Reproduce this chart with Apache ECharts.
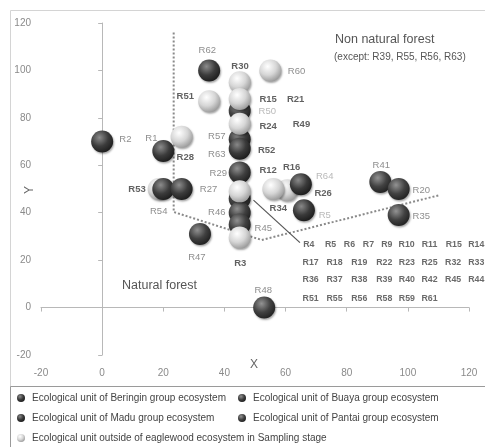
<!DOCTYPE html>
<html><head><meta charset="utf-8">
<script src="https://cdn.jsdelivr.net/npm/echarts@6/dist/echarts.min.js"></script>
<style>html,body{margin:0;padding:0;background:#fff}#c{width:485px;height:447px}</style>
</head><body><div id="c"></div>
<script>
// ---- data ----
const xTicks = [-20, 0, 20, 40, 60, 80, 100, 120];
const yTicks = [-20, 0, 20, 40, 60, 80, 100, 120];
const xAxisTitle = 'X';
const yAxisTitle = 'Y';
const seriesNames = [
  'Ecological unit of Beringin group ecosystem',
  'Ecological unit of Buaya group ecosystem',
  'Ecological unit of Madu group ecosystem',
  'Ecological unit of Pantai group ecosystem',
  'Ecological unit outside of eaglewood ecosystem in Sampling stage'
];
const beringinPts = [[0, 70], [20, 66], [35, 100], [20, 50], [26, 50]];
const buayaPts = [[45, 83], [32, 31], [45, 57], [45, 46], [45, 40], [45, 35]];
const maduPts = [[45, 71], [45, 67], [65, 52], [66, 41]];
const pantaiPts = [[91, 53], [97, 50], [97, 39], [53, 0]];
// outside units hidden behind other spheres, then those in front
const outsideBackPts = [[18.5, 50], [60.5, 49.5]];
const outsidePts = [[26, 72], [35, 87], [45, 95], [45, 88], [45, 77.5], [55, 100],
  [45, 49], [45, 29.5], [56, 50]];
const boundaryDotted = [[23.4, 116], [23.4, 40.3], [52.2, 28.5], [110.3, 47.4]];
const leaderLine = [[49.5, 45.3], [64.7, 27.4]];

// point labels: name, x, y, tone (0 bold dark, 1 gray, 2 light gray)
const pointLabels = [
  ['R2', 7.6, 71, 1], ['R1', 16.1, 71.5, 1], ['R28', 27.2, 63.4, 0], ['R62', 34.4, 108.6, 1],
  ['R51', 27.2, 88.9, 0], ['R57', 37.5, 72, 1], ['R63', 37.5, 64.6, 1], ['R29', 38, 56.6, 1],
  ['R30', 45.1, 101.6, 0], ['R60', 63.6, 99.5, 1], ['R15', 54.3, 87.8, 0], ['R21', 63.3, 87.8, 0],
  ['R50', 54, 82.6, 2], ['R24', 54.3, 76.5, 0], ['R49', 65.2, 77.4, 0], ['R52', 53.8, 66.4, 0],
  ['R53', 11.4, 49.9, 0], ['R27', 34.8, 49.9, 1], ['R54', 18.5, 40.4, 1], ['R46', 37.5, 40.2, 1],
  ['R47', 31, 21.2, 1], ['R3', 45.2, 18.8, 0], ['R45', 52.7, 33.4, 1], ['R12', 54.3, 58, 0],
  ['R16', 62, 59.1, 0], ['R64', 72.8, 55.2, 2], ['R26', 72.3, 48.2, 0], ['R34', 57.6, 41.8, 0],
  ['R5', 72.8, 39, 2], ['R41', 91.3, 60.1, 1], ['R20', 104.4, 49.6, 1], ['R35', 104.4, 38.3, 1],
  ['R48', 52.7, 7.4, 1]
];
// list of overlapping units (rows)
const listRow1 = ['R4', 'R5', 'R6', 'R7', 'R9', 'R10', 'R11', 'R15', 'R14'];
const listRow2 = ['R17', 'R18', 'R19', 'R22', 'R23', 'R25', 'R32', 'R33'];
const listRow3 = ['R36', 'R37', 'R38', 'R39', 'R40', 'R42', 'R45', 'R44'];
const listRow4 = ['R51', 'R55', 'R56', 'R58', 'R59', 'R61'];
const listRow1X = [67.6, 74.7, 80.9, 87.1, 93.1, 99.6, 107.1, 115.0, 122.4];
const listColX = [68.2, 76.0, 84.1, 92.3, 99.7, 107.1, 114.8, 122.4];
const listRowY = [26.4, 18.9, 11.6, 3.9];

// ---- build ----
function sphere(base, hi, edge) {
  return { type: 'radial', x: 0.38, y: 0.32, r: 0.72,
    colorStops: [{ offset: 0, color: hi }, { offset: 0.55, color: base }, { offset: 1, color: edge }] };
}
const darkStyles = [
  sphere('#3c3c3c', '#8c8c8c', '#1c1c1c'),
  sphere('#404040', '#909090', '#1e1e1e'),
  sphere('#3a3a3a', '#888888', '#1a1a1a'),
  sphere('#424242', '#939393', '#202020')
];
const lightStyle = sphere('#d6d6d6', '#ffffff', '#999999');
const sphereShadow = { opacity: 1, shadowColor: 'rgba(0,0,0,0.35)', shadowBlur: 2, shadowOffsetX: 1, shadowOffsetY: 1.5 };
const groups = [beringinPts, buayaPts, maduPts, pantaiPts, outsidePts];

const toneColor = ['#3a3a3a', '#707070', '#a8a8a8'];
const labelData = pointLabels.map(l => ({
  name: l[0], value: [l[1], l[2]],
  label: { color: toneColor[l[3]], fontWeight: l[3] === 0 ? 'bold' : 'normal' }
}));
const listData = [];
listRow1.forEach((n, i) => listData.push({ name: n, value: [listRow1X[i], listRowY[0]] }));
[listRow2, listRow3, listRow4].forEach((row, r) =>
  row.forEach((n, i) => listData.push({ name: n, value: [listColX[i], listRowY[r + 1]] })));

const series = [
  { type: 'line', data: boundaryDotted, symbol: 'none', silent: true, z: 1,
    lineStyle: { type: [2, 2], width: 2, color: '#8a8a8a' } },
  { type: 'line', data: leaderLine, symbol: 'none', silent: true, z: 1,
    lineStyle: { width: 1.2, color: '#555' } },
  { name: seriesNames[4], type: 'scatter', data: outsideBackPts, symbolSize: 22, z: 2,
    itemStyle: Object.assign({ color: lightStyle }, sphereShadow), emphasis: { disabled: true } }
];
groups.forEach((pts, i) => {
  series.push({
    name: seriesNames[i], type: 'scatter', data: pts, symbolSize: 22, z: 3 + (i === 4 ? 1 : 0),
    itemStyle: Object.assign({ color: i < 4 ? darkStyles[i] : lightStyle }, sphereShadow),
    emphasis: { disabled: true }
  });
});
series.push({
  type: 'scatter', data: labelData, symbolSize: 0, silent: true, clip: false, z: 6,
  label: { show: true, position: 'inside', formatter: '{b}', fontSize: 9.5,
    fontFamily: 'Liberation Sans' }
});
series.push({
  type: 'scatter', data: listData, symbolSize: 0, silent: true, clip: false, z: 6,
  label: { show: true, position: 'inside', formatter: '{b}', fontSize: 8.8, fontWeight: 'bold',
    color: '#454545', fontFamily: 'Liberation Sans' }
});

const legendPos = [[17, 393], [238, 393], [17, 413], [238, 413], [17, 433]];
const legends = seriesNames.map((n, i) => ({
  data: [n], left: legendPos[i][0], top: legendPos[i][1], padding: 0,
  itemWidth: 8, itemHeight: 8, itemGap: 0, icon: 'circle', selectedMode: false,
  textStyle: { fontSize: 10, color: '#444', fontFamily: 'Liberation Sans', padding: [0, 0, 0, 2] }
}));

const chart = echarts.init(document.getElementById('c'));
chart.setOption({
  animation: false,
  backgroundColor: '#fff',
  grid: { left: 41, right: 16, top: 23, bottom: 92, containLabel: false, outerBoundsMode: 'none' },
  xAxis: {
    type: 'value', min: xTicks[0], max: xTicks[xTicks.length - 1], interval: 20,
    axisLine: { show: true, onZero: true, lineStyle: { color: '#b8b8b8', width: 1 } },
    axisTick: { show: true, length: 4, lineStyle: { color: '#b8b8b8' } },
    axisLabel: { margin: 13, fontSize: 10, color: '#8a8a8a', fontFamily: 'Liberation Sans' },
    splitLine: { show: false }
  },
  yAxis: {
    type: 'value', min: yTicks[0], max: yTicks[yTicks.length - 1], interval: 20,
    axisLine: { show: true, onZero: true, lineStyle: { color: '#b8b8b8', width: 1 } },
    axisTick: { show: true, length: 4, lineStyle: { color: '#b8b8b8' } },
    axisLabel: { margin: 10, fontSize: 10, color: '#8a8a8a', fontFamily: 'Liberation Sans' },
    splitLine: { show: false }
  },
  legend: legends,
  graphic: [
    { type: 'rect', shape: { x: 10.5, y: 10.5, width: 480, height: 376 }, silent: true, z: -10,
      style: { fill: 'none', stroke: '#d4d4d4', lineWidth: 1 } },
    { type: 'rect', shape: { x: 10.5, y: 386.5, width: 480, height: 70 }, silent: true, z: -10,
      style: { fill: 'none', stroke: '#9a9a9a', lineWidth: 1 } },
    { type: 'text', x: 254, y: 365, silent: true,
      style: { text: xAxisTitle, font: '12px "Liberation Sans"', fill: '#666', align: 'center', verticalAlign: 'middle' } },
    { type: 'text', x: 30, y: 190, rotation: Math.PI / 2, silent: true,
      style: { text: yAxisTitle, font: '12px "Liberation Sans"', fill: '#666', align: 'center', verticalAlign: 'middle' } },
    { type: 'text', left: 335, top: 33, silent: true,
      style: { text: 'Non natural forest', font: '12.5px "Liberation Sans"', fill: '#555' } },
    { type: 'text', left: 334, top: 52, silent: true,
      style: { text: '(except: R39, R55, R56, R63)', font: '10px "Liberation Sans"', fill: '#555' } },
    { type: 'text', left: 122, top: 279, silent: true,
      style: { text: 'Natural forest', font: '12.5px "Liberation Sans"', fill: '#555' } }
  ],
  series: series
});
</script></body></html>
